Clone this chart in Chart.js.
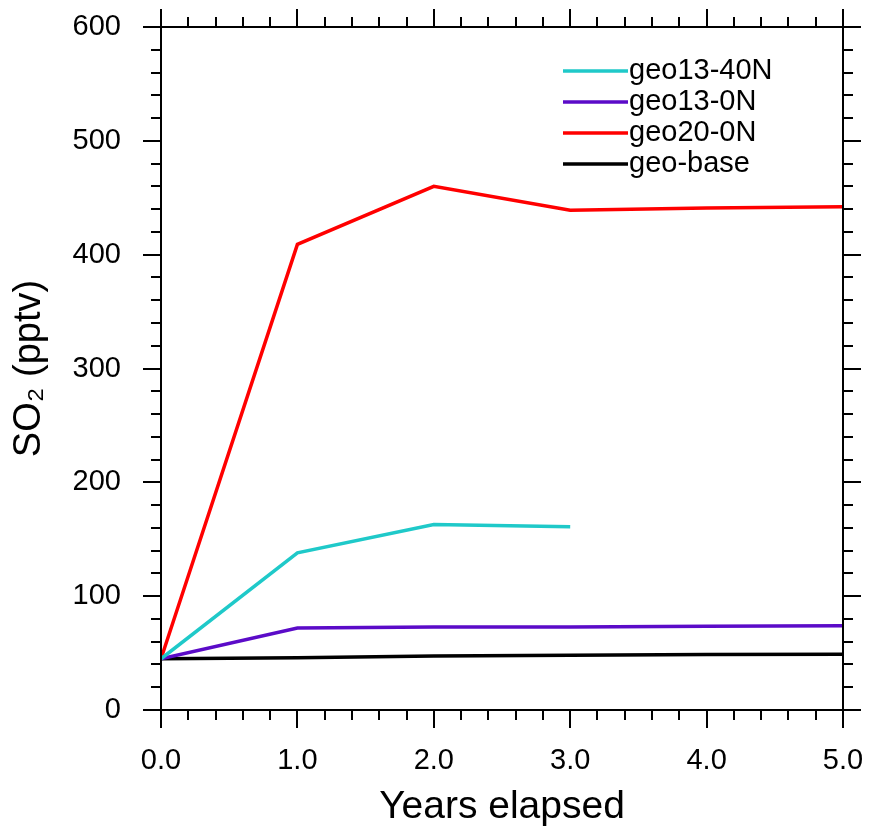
<!DOCTYPE html>
<html lang="en">
  <head>
    <meta charset="utf-8" />
    <title>SO2 geo runs</title>
    <script src="https://cdn.jsdelivr.net/npm/chart.js@4.4.0/dist/chart.umd.min.js"></script>
    <style>
      html, body { margin: 0; padding: 0; background: #fff; }
      #wrap { width: 869px; height: 836px; }
    </style>
  </head>
  <body>
    <div id="wrap"><canvas id="so2Chart" width="869" height="836"></canvas></div>

    <script>
      // data
      const years = [0, 1, 2, 3, 4, 5];
      const geo13_40N = [45, 138, 163, 161];
      const geo13_0N = [45, 72, 73, 73, 73.5, 74];
      const geo20_0N = [45, 409, 460, 439, 441, 442];
      const geoBase = [45, 46, 47.5, 48, 48.7, 49];
      const yTicks = [0, 100, 200, 300, 400, 500, 600];
      const xTicks = [0, 1, 2, 3, 4, 5];

      const FONT = "'Liberation Sans', Arial, sans-serif";

      const pts = (vals) => vals.map((v, i) => ({ x: years[i], y: v }));

      const series = [
        { label: 'geo13-40N', data: geo13_40N, color: '#1fc9c9' },
        { label: 'geo13-0N', data: geo13_0N, color: '#5b0bc8' },
        { label: 'geo20-0N', data: geo20_0N, color: '#ff0000' },
        { label: 'geo-base', data: geoBase, color: '#000000' },
      ];

      // frame + NCL style outward ticks on all four sides
      const frameTicks = {
        id: 'frameTicks',
        afterDraw(chart) {
          const { ctx, chartArea: a, scales } = chart;
          const xs = scales.x, ys = scales.y;
          ctx.save();
          ctx.strokeStyle = '#000';
          ctx.lineWidth = 2;
          ctx.strokeRect(a.left, a.top, a.right - a.left, a.bottom - a.top);
          ctx.beginPath();
          for (let i = 0; i <= 25; i++) {
            const v = i * 0.2;
            const px = Math.round(xs.getPixelForValue(v));
            const len = i % 5 === 0 ? 18 : 10;
            ctx.moveTo(px, a.bottom); ctx.lineTo(px, a.bottom + len);
            ctx.moveTo(px, a.top); ctx.lineTo(px, a.top - len);
          }
          for (let i = 0; i <= 30; i++) {
            const v = i * 20;
            const py = Math.round(ys.getPixelForValue(v));
            const len = i % 5 === 0 ? 18 : 10;
            ctx.moveTo(a.left, py); ctx.lineTo(a.left - len, py);
            ctx.moveTo(a.right, py); ctx.lineTo(a.right + len, py);
          }
          ctx.stroke();
          ctx.restore();
        }
      };

      // legend drawn inside the plot, top right
      const insideLegend = {
        id: 'insideLegend',
        afterDraw(chart) {
          const { ctx, chartArea: a } = chart;
          ctx.save();
          ctx.font = '29px ' + FONT;
          ctx.textBaseline = 'middle';
          ctx.fillStyle = '#000';
          const x0 = a.left + 402;
          let y = a.top + 44;
          chart.data.datasets.forEach((ds) => {
            ctx.strokeStyle = ds.borderColor;
            ctx.lineWidth = 3.5;
            ctx.beginPath();
            ctx.moveTo(x0, y); ctx.lineTo(x0 + 65, y);
            ctx.stroke();
            ctx.fillText(ds.label, x0 + 66, y);
            y += 31;
          });
          ctx.restore();
        }
      };

      const ctx = document.getElementById('so2Chart').getContext('2d');

      new Chart(ctx, {
        type: 'line',
        data: {
          datasets: series.map((s) => ({
            label: s.label,
            data: pts(s.data),
            borderColor: s.color,
            backgroundColor: s.color,
            borderWidth: 3.5,
            pointRadius: 0,
            tension: 0,
          }))
        },
        options: {
          responsive: false,
          animation: false,
          layout: { padding: { top: 27, right: 26, left: 0, bottom: 0 } },
          plugins: {
            legend: { display: false },
            tooltip: { enabled: false },
          },
          scales: {
            x: {
              type: 'linear',
              min: 0,
              max: 5,
              afterBuildTicks: (s) => { s.ticks = xTicks.map((v) => ({ value: v })); },
              afterFit: (s) => { s.height = 126; s.paddingLeft = 0; s.paddingRight = 0; },
              grid: { display: false, drawTicks: false },
              border: { display: false },
              ticks: {
                callback: (v) => v.toFixed(1),
                color: '#000',
                font: { family: FONT, size: 29 },
                padding: 34,
                maxRotation: 0,
              },
              title: {
                display: true,
                text: 'Years elapsed',
                color: '#000',
                font: { family: FONT, size: 39 },
                padding: { top: 0, bottom: 5 },
              },
            },
            y: {
              min: 0,
              max: 600,
              afterBuildTicks: (s) => { s.ticks = yTicks.map((v) => ({ value: v })); },
              afterFit: (s) => { s.width = 161; s.paddingTop = 0; s.paddingBottom = 0; },
              grid: { display: false, drawTicks: false },
              border: { display: false },
              ticks: {
                color: '#000',
                font: { family: FONT, size: 29 },
                padding: 40,
              },
              title: {
                display: true,
                text: 'SO₂ (pptv)',
                color: '#000',
                font: { family: FONT, size: 38 },
                padding: { top: 7, bottom: 0 },
              },
            },
          },
        },
        plugins: [frameTicks, insideLegend],
      });
    </script>
  </body>
</html>
